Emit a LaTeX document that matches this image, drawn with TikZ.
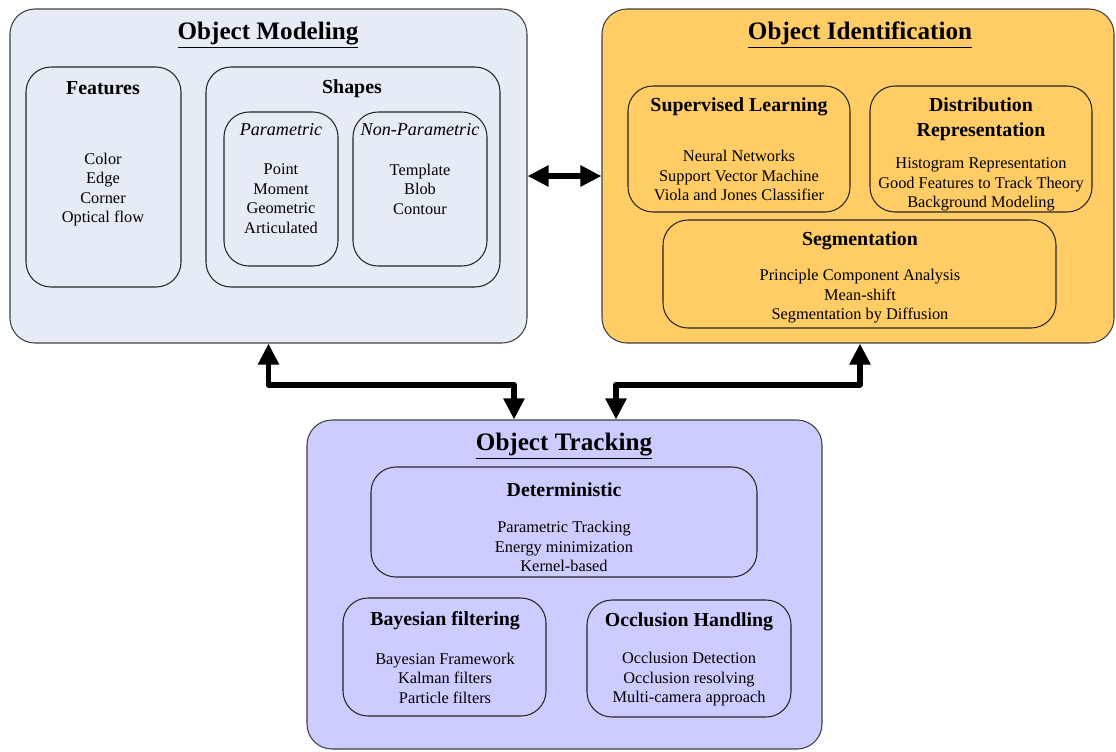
\documentclass[tikz,border=0pt]{standalone}
\usepackage{fontspec}
\setmainfont{Liberation Serif}
\usetikzlibrary{arrows.meta}
\definecolor{modelblue}{RGB}{229,236,246}
\definecolor{identorange}{RGB}{255,204,102}
\definecolor{tracklilac}{RGB}{204,204,255}

\begin{document}
\begin{tikzpicture}[x=0.2mm, y=-0.2mm,
    bigbox/.style={draw=black!75, line width=0.6pt, rounded corners=5mm, inner sep=0pt},
    subbox/.style={draw=black!85, line width=0.6pt, rounded corners=5mm, inner sep=0pt},
    bigtitle/.style={font=\fontsize{14.3}{17}\selectfont\bfseries, inner sep=0pt},
    head/.style={font=\fontsize{11.3}{14.2}\selectfont\bfseries, align=center, inner sep=0pt},
    subhead/.style={font=\fontsize{10.3}{12}\selectfont\itshape, inner sep=0pt},
    items/.style={font=\fontsize{9.3}{11.1}\selectfont, align=center, inner sep=0pt},
    link/.style={{Triangle[length=4.2mm,width=4mm]}-{Triangle[length=4.2mm,width=4mm]}, line width=3.4pt, line join=round}]
    \useasboundingbox (0,0) rectangle (1116,751);

    % object modeling
    \node[bigbox, fill=modelblue, minimum width=103.4mm, minimum height=66.8mm] (model) at (268.5,176) {};
    \node[bigtitle] (modeltitle) at (268,35) {\underline{Object Modeling}};
    \node[subbox, minimum width=31mm, minimum height=44mm] (features) at (103.5,177) {};
    \node[head] (featureshead) at (103,88) {Features};
    \node[items] (featuresitems) at (103,189.5) {Color\\Edge\\Corner\\Optical flow};
    \node[subbox, minimum width=58.8mm, minimum height=44mm] (shapes) at (353,177) {};
    \node[head] (shapeshead) at (352,89) {Shapes};
    \node[subbox, minimum width=22.8mm, minimum height=30.8mm] (param) at (281,189) {};
    \node[subhead] (paramhead) at (281,130) {Parametric};
    \node[items] (paramitems) at (281,198.5) {Point\\Moment\\Geometric\\Articulated};
    \node[subbox, minimum width=26.8mm, minimum height=30.8mm] (nonparam) at (420,189) {};
    \node[subhead] (nonparamhead) at (420,130) {Non-Parametric};
    \node[items] (nonparamitems) at (420,189) {Template\\Blob\\Contour};

    % object identification
    \node[bigbox, fill=identorange, minimum width=102.4mm, minimum height=66.8mm] (ident) at (858,176) {};
    \node[bigtitle] (identtitle) at (860,35) {\underline{Object Identification}};
    \node[subbox, minimum width=44.4mm, minimum height=25.2mm] (superv) at (739,149) {};
    \node[head] (supervhead) at (739,107) {Supervised Learning};
    \node[items] (supervitems) at (739,175.5) {Neural Networks\\Support Vector Machine\\Viola and Jones Classifier};
    \node[subbox, minimum width=44.4mm, minimum height=25.2mm] (distrib) at (981,149) {};
    \node[head] (distribhead) at (981,119) {Distribution\\Representation};
    \node[items] (distribitems) at (981,184.5) {Histogram Representation\\Good Features to Track Theory\\Background Modeling};
    \node[subbox, minimum width=78.6mm, minimum height=21.6mm] (segment) at (859.5,274) {};
    \node[head] (segmenthead) at (860,241) {Segmentation};
    \node[items] (segmentitems) at (860,296.5) {Principle Component Analysis\\Mean-shift\\Segmentation by Diffusion};

    % object tracking
    \node[bigbox, fill=tracklilac, minimum width=103mm, minimum height=65.8mm] (track) at (564.5,584.5) {};
    \node[bigtitle] (tracktitle) at (564,446) {\underline{Object Tracking}};
    \node[subbox, minimum width=77.2mm, minimum height=22mm] (determ) at (564,522) {};
    \node[head] (determhead) at (564,490) {Deterministic};
    \node[items] (determitems) at (564,546.5) {Parametric Tracking\\Energy minimization\\Kernel-based};
    \node[subbox, minimum width=40.6mm, minimum height=23.6mm] (bayes) at (444.5,657) {};
    \node[head] (bayeshead) at (445,621) {Bayesian filtering};
    \node[items] (bayesitems) at (445,678) {Bayesian Framework\\Kalman filters\\Particle filters};
    \node[subbox, minimum width=40.8mm, minimum height=23.4mm] (occl) at (689,658.5) {};
    \node[head] (occlhead) at (689,622) {Occlusion Handling};
    \node[items] (occlitems) at (689,679.5) {Occlusion Detection\\Occlusion resolving\\Multi-camera approach};

    % links
    \draw[link] (model.east) -- (ident.west);
    \draw[link] (model.south) -- ++(0,41) -| ([xshift=-10.1mm]track.north);
    \draw[link] ([xshift=0.4mm]ident.south) -- ++(0,41) -| ([xshift=10.3mm]track.north);
\end{tikzpicture}
\end{document}
